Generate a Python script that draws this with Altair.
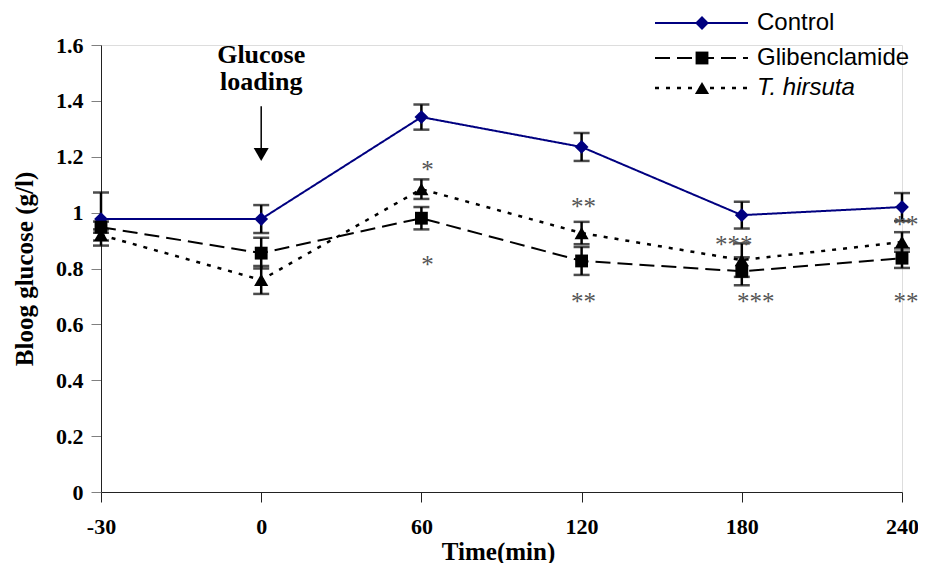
import altair as alt
import pandas as pd

# ---- data ----
times = [-30, 0, 60, 120, 180, 240]
series = ["Control", "Glibenclamide", "T. hirsuta"]
control = [0.977, 0.977, 1.342, 1.235, 0.991, 1.020]
control_err = [0.095, 0.050, 0.045, 0.050, 0.048, 0.050]
glib = [0.948, 0.855, 0.980, 0.827, 0.790, 0.837]
glib_err = [0.020, 0.055, 0.040, 0.050, 0.050, 0.035]
hirsuta = [0.920, 0.759, 1.084, 0.927, 0.830, 0.895]
hirsuta_err = [0.020, 0.050, 0.035, 0.040, 0.060, 0.035]

ann_time = [60, 60, 120, 120, 180, 180, 240, 240]
ann_y = [1.17, 0.83, 1.038, 0.698, 0.902, 0.698, 0.973, 0.698]
ann_text = ["*", "*", "**", "**", "***", "***", "**", "**"]

note_lines = ["Glucose", "loading"]
note_y = [1.535, 1.439]
arrow_top, arrow_bottom, arrow_head = 1.381, 1.215, 1.208

# ---- styles ----
colors = {"Control": "#000080", "Glibenclamide": "#000000", "T. hirsuta": "#000000"}
dashes = {"Control": [1, 0], "Glibenclamide": [15, 7], "T. hirsuta": [4, 7]}
widths = {"Control": 2, "Glibenclamide": 2, "T. hirsuta": 2.5}
shapes = {"Control": "diamond", "Glibenclamide": "square", "T. hirsuta": "triangle-up"}
sizes = {"Control": 190, "Glibenclamide": 165, "T. hirsuta": 200}
ann_dx = [6, 6, 2, 2, -8, 14, 4, 4]

rows = []
for name, vals, errs in [("Control", control, control_err),
                         ("Glibenclamide", glib, glib_err),
                         ("T. hirsuta", hirsuta, hirsuta_err)]:
    for t, v, e in zip(times, vals, errs):
        rows.append({"series": name, "time": t, "value": v, "lo": v - e, "hi": v + e})
df = pd.DataFrame(rows)

serif = "Liberation Serif"
sans = "Liberation Sans"

X = alt.X("time:O", scale=alt.Scale(type="point", padding=0),
          axis=alt.Axis(title="Time(min)", labelAngle=0, labelFont=serif, labelFontWeight="bold",
                        labelFontSize=22, labelColor="black", titleFont=serif, titleFontWeight="bold",
                        titleFontSize=25, titleColor="black", tickSize=10, labelPadding=14,
                        titlePadding=2, titleX=397, domainColor="#222", tickColor="#222"))
Y = alt.Y("value:Q", scale=alt.Scale(domain=[0, 1.6], nice=False),
          axis=alt.Axis(title="Bloog glucose (g/l)", values=[0, 0.2, 0.4, 0.6, 0.8, 1.0, 1.2, 1.4, 1.6],
                        labelExpr="format(datum.value, '~g')", labelFont=serif, labelFontWeight="bold",
                        labelFontSize=22, labelColor="black", titleFont=serif, titleFontWeight="bold",
                        titleFontSize=25, titleColor="black", tickSize=10, labelPadding=8,
                        titlePadding=18, domainColor="#222", tickColor="#808080", grid=False))

layers = []
for name in series:
    d = df[df.series == name]
    layers.append(alt.Chart(d).mark_line(color=colors[name], strokeWidth=widths[name],
                                         strokeDash=dashes[name])
                  .encode(x=X, y=Y))
for name in series:
    d = df[df.series == name]
    base = alt.Chart(d)
    layers.append(base.mark_rule(color="black", strokeWidth=2.5).encode(x=X, y="lo:Q", y2="hi:Q"))
    layers.append(base.mark_tick(color="black", size=16, thickness=2.5).encode(x=X, y="lo:Q"))
    layers.append(base.mark_tick(color="black", size=16, thickness=2.5).encode(x=X, y="hi:Q"))
for name in series:
    d = df[df.series == name]
    layers.append(alt.Chart(d).mark_point(shape=shapes[name], filled=True, opacity=1,
                                           color=colors[name], size=sizes[name])
                  .encode(x=X, y=Y))

# significance stars
for t, yv, txt, dx in zip(ann_time, ann_y, ann_text, ann_dx):
    layers.append(alt.Chart(pd.DataFrame({"time": [t], "value": [yv], "txt": [txt]}))
                  .mark_text(font=serif, fontSize=25, color="#555", dx=dx, dy=5, baseline="middle")
                  .encode(x=X, y=Y, text="txt:N"))

# glucose loading note + arrow
note_df = pd.DataFrame({"time": [0] * len(note_lines), "value": note_y, "txt": note_lines})
layers.append(alt.Chart(note_df).mark_text(font=serif, fontSize=26, fontWeight="bold",
                                           color="black", baseline="alphabetic")
              .encode(x=X, y=Y, text="txt:N"))
arrow_df = pd.DataFrame({"time": [0], "value": [arrow_top], "v2": [arrow_bottom], "head": [arrow_head]})
layers.append(alt.Chart(arrow_df).mark_rule(color="black", strokeWidth=1.5)
              .encode(x=X, y="value:Q", y2="v2:Q"))
layers.append(alt.Chart(arrow_df).mark_point(shape="triangle-down", filled=True, opacity=1,
                                             color="black", size=225)
              .encode(x=X, y="head:Q"))

# legend (manual)
leg_y = [-22, 13, 43]
for name, ly in zip(series, leg_y):
    one = pd.DataFrame({"series": [name]})
    layers.append(alt.Chart(one).mark_rule(color=colors[name], strokeWidth=widths[name],
                                           strokeDash=dashes[name])
                  .encode(x=alt.value(554), x2=alt.value(647), y=alt.value(ly)))
    layers.append(alt.Chart(one).mark_point(shape=shapes[name], filled=True, opacity=1,
                                            color=colors[name], size=sizes[name])
                  .encode(x=alt.value(601), y=alt.value(ly)))
    layers.append(alt.Chart(one).mark_text(font=sans, fontSize=24, align="left", baseline="middle",
                                           color="black",
                                           fontStyle="italic" if name == "T. hirsuta" else "normal")
                  .encode(x=alt.value(656), y=alt.value(ly), text="series:N"))

chart = alt.layer(*layers).properties(
    width=801, height=447,
    autosize=alt.AutoSizeParams(type="none"),
    padding={"left": 93, "top": 37, "right": 16, "bottom": 71},
).configure_view(stroke=None).configure(background="white")

chart.save("out.html", embed_options={"renderer": "svg", "actions": False})
